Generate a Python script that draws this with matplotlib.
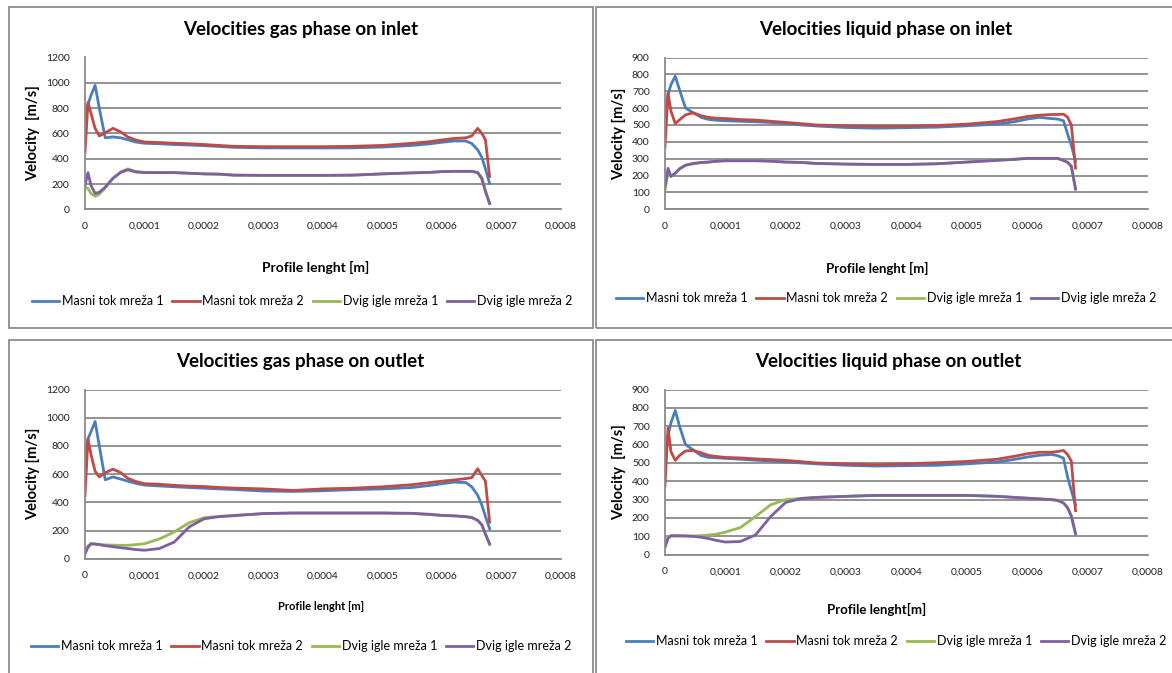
import numpy as np
import matplotlib
matplotlib.use("Agg")
from matplotlib import pyplot as plt
from matplotlib.patches import Rectangle

plt.rcParams['font.family'] = ['Lato', 'DejaVu Sans']

W, H = 1172, 673

# profile position in micrometres (shared by all four panels)
x_um = [0, 5, 10, 17, 24, 34, 47, 60, 72, 85, 100, 125, 150, 175, 200, 225,
        250, 300, 350, 400, 450, 500, 550, 580, 600, 620, 640, 650, 660, 667, 673, 680]

labels = ["Masni tok mreža 1", "Masni tok mreža 2", "Dvig igle mreža 1", "Dvig igle mreža 2"]
colors = ["#4A7EBB", "#BE4B48", "#98B954", "#7D60A0"]

xtick_vals = [0, 0.0001, 0.0002, 0.0003, 0.0004, 0.0005, 0.0006, 0.0007, 0.0008]
xtick_labels = ["0", "0,0001", "0,0002", "0,0003", "0,0004", "0,0005", "0,0006", "0,0007", "0,0008"]

# gas phase, inlet
gas_in_mt1 = [700, 830, 900, 980, 800, 565, 572, 565, 550, 532, 522, 518, 512, 508, 503, 497,
              490, 486, 485, 485, 486, 492, 505, 518, 530, 540, 540, 520, 470, 410, 320, 205]
gas_in_mt2 = [450, 845, 760, 640, 580, 605, 640, 612, 572, 548, 532, 528, 522, 518, 512, 505,
              498, 495, 495, 495, 498, 505, 522, 535, 548, 560, 565, 580, 640, 600, 550, 260]
gas_in_dv1 = [175, 165, 125, 103, 120, 170, 245, 295, 320, 300, 292, 290, 290, 285, 280, 278,
              270, 268, 268, 268, 270, 280, 288, 292, 298, 300, 300, 300, 292, 250, 150, 45]
gas_in_dv2 = [190, 290, 190, 125, 135, 175, 245, 292, 312, 295, 290, 290, 290, 285, 280, 278,
              270, 268, 268, 268, 270, 280, 288, 292, 298, 300, 300, 300, 290, 240, 140, 45]

# liquid phase, inlet
liq_in_mt1 = [530, 680, 740, 789, 709, 600, 572, 545, 533, 528, 525, 522, 519, 515, 508, 500,
              494, 485, 481, 484, 487, 495, 505, 520, 535, 545, 538, 535, 525, 445, 380, 285]
liq_in_mt2 = [371, 690, 580, 509, 530, 560, 572, 555, 545, 540, 538, 532, 529, 522, 515, 508,
              500, 495, 493, 493, 497, 505, 520, 537, 550, 558, 562, 562, 564, 545, 500, 245]
liq_in_dv1 = [115, 215, 195, 212, 238, 260, 270, 276, 280, 285, 288, 288, 288, 287, 280, 278,
              272, 268, 266, 266, 270, 280, 292, 298, 302, 302, 302, 302, 290, 278, 255, 120]
liq_in_dv2 = [134, 243, 195, 215, 240, 262, 272, 278, 280, 285, 288, 288, 288, 285, 280, 278,
              272, 268, 266, 266, 270, 280, 290, 296, 302, 302, 302, 302, 290, 278, 255, 120]

# gas phase, outlet
gas_out_mt1 = [697, 850, 900, 973, 800, 560, 580, 565, 550, 535, 522, 516, 510, 505, 500, 495,
               491, 480, 477, 482, 490, 495, 505, 520, 532, 543, 540, 510, 450, 380, 300, 213]
gas_out_mt2 = [449, 850, 740, 620, 580, 610, 635, 610, 570, 548, 532, 528, 520, 515, 512, 505,
               501, 495, 484, 495, 500, 510, 525, 540, 550, 558, 568, 575, 638, 590, 550, 260]
gas_out_dv1 = [45, 90, 106, 102, 100, 98, 96, 95, 95, 100, 106, 140, 190, 255, 290, 300,
               307, 320, 324, 324, 324, 324, 320, 312, 307, 304, 298, 292, 272, 240, 175, 100]
gas_out_dv2 = [35, 80, 106, 105, 100, 92, 85, 78, 72, 65, 60, 72, 118, 225, 283, 298,
               305, 320, 324, 324, 324, 324, 322, 315, 307, 304, 298, 292, 272, 240, 175, 106]

# liquid phase, outlet
liq_out_mt1 = [500, 650, 720, 786, 700, 600, 570, 540, 530, 528, 525, 520, 515, 510, 505, 500,
               495, 487, 483, 485, 487, 495, 505, 520, 532, 542, 546, 540, 526, 420, 350, 270]
liq_out_mt2 = [377, 690, 560, 514, 540, 565, 568, 555, 541, 535, 530, 527, 522, 518, 514, 507,
               500, 495, 490, 496, 501, 508, 520, 537, 550, 558, 558, 562, 568, 545, 510, 240]
liq_out_dv1 = [45, 95, 105, 106, 104, 102, 102, 104, 107, 112, 123, 148, 208, 272, 300, 307,
               312, 318, 323, 323, 323, 323, 318, 312, 308, 304, 300, 296, 282, 255, 210, 114]
liq_out_dv2 = [40, 90, 102, 102, 102, 102, 100, 95, 88, 78, 69, 72, 108, 208, 285, 305,
               312, 318, 323, 323, 323, 323, 318, 312, 308, 304, 300, 296, 282, 255, 210, 114]

panels = [
    dict(title="Velocities gas phase on inlet", series=[gas_in_mt1, gas_in_mt2, gas_in_dv1, gas_in_dv2],
         ymax=1200, ystep=200, ylabel="Velocity  [m/s]", xlabel="Profile lenght [m]", xl_size=10,
         box=(9, 7, 593, 328), ax=(85, 57.5, 561, 209.3), tpos=(301, 30), xl=(316, 267), leg=(302, 301)),
    dict(title="Velocities liquid phase on inlet", series=[liq_in_mt1, liq_in_mt2, liq_in_dv1, liq_in_dv2],
         ymax=900, ystep=100, ylabel="Velocity [m/s]", xlabel="Profile lenght [m]", xl_size=9.5,
         box=(596, 7, 1180, 328), ax=(665, 57.5, 1148, 209.3), tpos=(886, 30), xl=(877, 268), leg=(886, 298)),
    dict(title="Velocities gas phase on outlet", series=[gas_out_mt1, gas_out_mt2, gas_out_dv1, gas_out_dv2],
         ymax=1200, ystep=200, ylabel="Velocity [m/s]", xlabel="Profile lenght [m]", xl_size=8,
         box=(9, 340, 593, 680), ax=(85, 389.5, 561, 558.7), tpos=(300, 362), xl=(321, 606), leg=(301, 646)),
    dict(title="Velocities liquid phase on outlet", series=[liq_out_mt1, liq_out_mt2, liq_out_dv1, liq_out_dv2],
         ymax=900, ystep=100, ylabel="Velocity  [m/s]", xlabel="Profile lenght[m]", xl_size=9.5,
         box=(596, 340, 1180, 680), ax=(665, 389.5, 1148, 554.7), tpos=(888, 362), xl=(877, 609), leg=(896, 641)),
]

fig = plt.figure(figsize=(W / 100, H / 100), dpi=100)
x_m = np.array(x_um) * 1e-6

for p in panels:
    bx0, by0, bx1, by1 = p["box"]
    fig.patches.append(Rectangle((bx0 / W, 1 - by1 / H), (bx1 - bx0) / W, (by1 - by0) / H,
                                 transform=fig.transFigure, fill=False, edgecolor="#8c8c8c", lw=1.3))

    l, t, r, b = p["ax"]
    ax = fig.add_axes([l / W, 1 - b / H, (r - l) / W, (b - t) / H])
    for vals, lab, c in zip(p["series"], labels, colors):
        ax.plot(x_m, vals, color=c, lw=2, label=lab, solid_joinstyle="round")

    ax.set_xlim(0, 0.0008)
    ax.set_ylim(0, p["ymax"])
    ax.set_xticks(xtick_vals)
    ax.set_xticklabels(xtick_labels)
    ax.set_yticks(np.arange(0, p["ymax"] + 1, p["ystep"]))
    ax.tick_params(length=0, labelsize=7.5, colors="#222222", pad=9)
    ax.tick_params(axis="y", pad=11)
    ax.grid(axis="y", color="#8a8a8a", lw=1.3)
    ax.set_axisbelow(True)
    for s in ["top", "right"]:
        ax.spines[s].set_visible(False)
    for s in ["left", "bottom"]:
        ax.spines[s].set_color("#8a8a8a")
        ax.spines[s].set_linewidth(1.3)
    ax.set_ylabel(p["ylabel"], fontsize=10.5, fontweight="bold", labelpad=4)

    fig.text(p["tpos"][0] / W, 1 - p["tpos"][1] / H, p["title"], ha="center", va="center",
             fontsize=13.5, fontweight="bold")
    fig.text(p["xl"][0] / W, 1 - p["xl"][1] / H, p["xlabel"], ha="center", va="center",
             fontsize=p["xl_size"], fontweight="bold")

    ax.legend(loc="center", bbox_to_anchor=(p["leg"][0] / W, 1 - p["leg"][1] / H),
              bbox_transform=fig.transFigure, ncol=4, frameon=False, fontsize=9,
              handlelength=2.2, handletextpad=0.2, columnspacing=0.7)

fig.savefig("out.png", dpi=100)
